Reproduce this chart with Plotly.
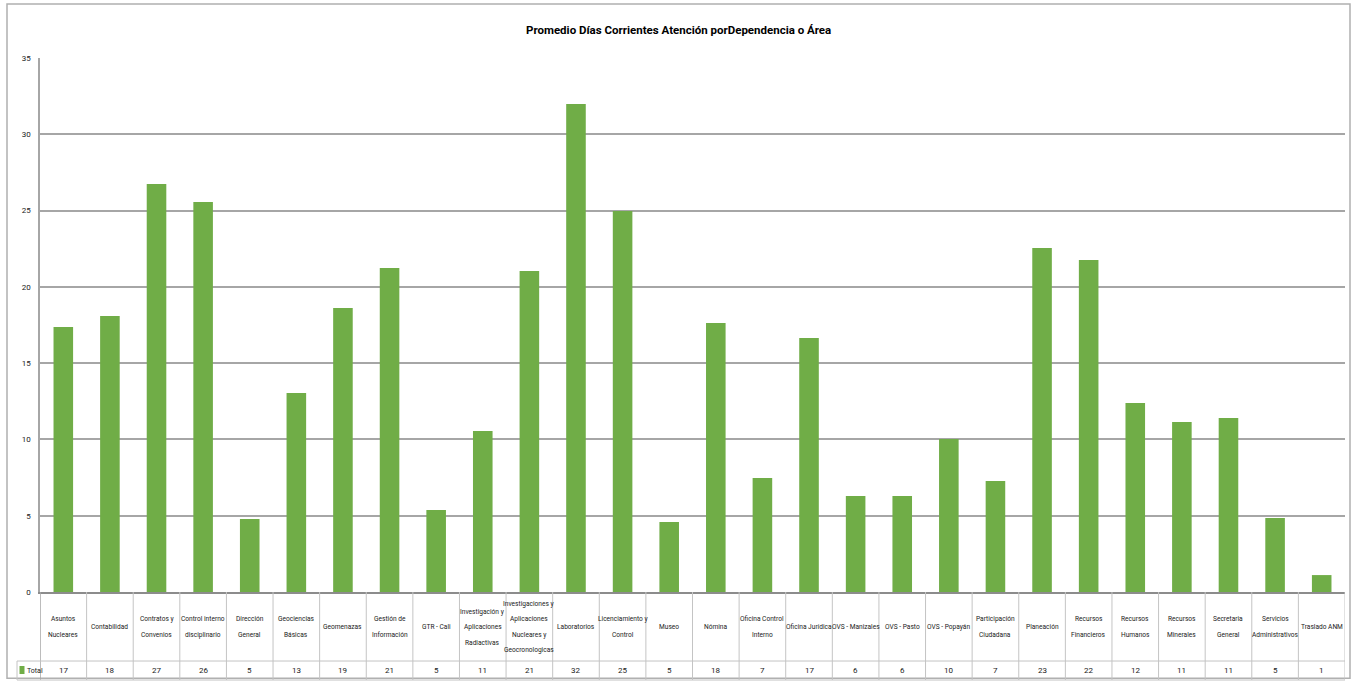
import plotly.graph_objects as go

W, H = 1354, 684

categories = [
    "Asuntos<br>Nucleares", "Contabilidad", "Contratos y<br>Convenios",
    "Control interno<br>disciplinario", "Dirección<br>General", "Geociencias<br>Básicas",
    "Geomenazas", "Gestión de<br>Información", "GTR - Cali",
    "Investigación y<br>Aplicaciones<br>Radiactivas",
    "Investigaciones y<br>Aplicaciones<br>Nucleares y<br>Geocronologicas",
    "Laboratorios", "Licenciamiento y<br>Control", "Museo", "Nómina",
    "Oficina Control<br>Interno", "Oficina Jurídica", "OVS - Manizales", "OVS - Pasto",
    "OVS - Popayán", "Participación<br>Ciudadana", "Planeación", "Recursos<br>Financieros",
    "Recursos<br>Humanos", "Recursos<br>Minerales", "Secretaria<br>General",
    "Servicios<br>Administrativos", "Traslado ANM",
]
values = [17.37, 18.09, 26.74, 25.56, 4.78, 13.04, 18.61, 21.24, 5.37, 10.55,
          21.04, 31.98, 24.97, 4.59, 17.63, 7.47, 16.65, 6.29, 6.29, 10.03,
          7.28, 22.55, 21.76, 12.39, 11.14, 11.40, 4.85, 1.11]
table_values = ["17", "18", "27", "26", "5", "13", "19", "21", "5", "11",
                "21", "32", "25", "5", "18", "7", "17", "6", "6", "10",
                "7", "23", "22", "12", "11", "11", "5", "1"]
series_name = "Total"
title_text = "Promedio Días Corrientes Atención porDependencia o Área"
y_ticks = [0, 5, 10, 15, 20, 25, 30, 35]

FONT = "Roboto, 'Liberation Sans Narrow', Arial, sans-serif"
GREEN = "#70ad47"
GRID = "#a6a6a6"
CELL = "#c4c4c4"
TXT = "#1a1a1a"


def px(x):
    return x / W


# vertical compensation for the capture (observed y_out ~ 0.9867*y + 5.07)
def py(y):
    yf = (y - 5.07) / 0.9867
    return 1 - yf / H


PLOT_L, PLOT_R = 40, 1345
Y0, Y35 = 593, 59
ROW_T, ROW_B = 662, 681

n = len(categories)
xidx = list(range(n))

fig = go.Figure()
fig.add_trace(go.Bar(
    x=xidx, y=values, name=series_name, width=0.42,
    marker=dict(color=GREEN, line=dict(width=0)),
    hoverinfo="y",
))

shapes = []
annotations = []

# outer chart border
shapes.append(dict(type="rect", xref="paper", yref="paper",
                   x0=px(7), x1=px(1350), y0=max(py(683), 0.001), y1=py(5),
                   line=dict(color="#b0b0b0", width=1.5)))

# table vertical lines at category boundaries
for i in range(n + 1):
    shapes.append(dict(type="line", xref="x", yref="paper",
                       x0=i - 0.5, x1=i - 0.5, y0=py(ROW_B), y1=py(Y0),
                       line=dict(color=CELL if i > 0 else GRID, width=1 if i > 0 else 1.5)))
# table horizontal lines
for yy in (ROW_T, ROW_B):
    shapes.append(dict(type="line", xref="paper", yref="paper",
                       x0=px(17), x1=px(PLOT_R), y0=py(yy), y1=py(yy),
                       line=dict(color=CELL, width=1)))
# Total cell left line
shapes.append(dict(type="line", xref="paper", yref="paper",
                   x0=px(17), x1=px(17), y0=py(ROW_B), y1=py(ROW_T),
                   line=dict(color=CELL, width=1)))
# legend key
shapes.append(dict(type="rect", xref="paper", yref="paper",
                   x0=px(19.5), x1=px(24.5), y0=py(675), y1=py(667),
                   fillcolor=GREEN, line=dict(width=0)))
annotations.append(dict(text=series_name, xref="paper", yref="paper",
                        x=px(24.5), y=py(671.5), xanchor="left", yanchor="middle",
                        showarrow=False, font=dict(family=FONT, size=7, color=TXT)))

# category labels and values
LINE_SP = 15.5
CENTER = 628
for i, (lab, val) in enumerate(zip(categories, table_values)):
    lines = lab.split("<br>")
    m = len(lines)
    for j, ln in enumerate(lines):
        yy = CENTER + (j - (m - 1) / 2) * LINE_SP
        annotations.append(dict(text=ln, xref="x", yref="paper", x=i, y=py(yy),
                                xanchor="center", yanchor="middle", showarrow=False,
                                font=dict(family=FONT, size=6.6, color=TXT)))
    annotations.append(dict(text=val, xref="x", yref="paper", x=i, y=py(671.5),
                            xanchor="center", yanchor="middle", showarrow=False,
                            font=dict(family=FONT, size=8, color=TXT)))

# title
annotations.append(dict(text="<b>" + title_text + "</b>", xref="paper", yref="paper",
                        x=px(678), y=py(31), xanchor="center", yanchor="middle",
                        showarrow=False, font=dict(family=FONT, size=11.5, color="#000")))

fig.update_layout(
    width=W, height=H,
    margin=dict(l=0, r=0, t=0, b=0),
    paper_bgcolor="white", plot_bgcolor="white",
    showlegend=False,
    bargap=0.58,
    shapes=shapes,
    annotations=annotations,
    xaxis=dict(domain=[px(PLOT_L), px(PLOT_R)], range=[-0.5, n - 0.5],
               showticklabels=False, ticks="", showgrid=False, zeroline=False,
               showline=True, linecolor="#8c8c8c", linewidth=2, fixedrange=True),
    yaxis=dict(domain=[py(Y0), py(Y35)], range=[0, 35], tickvals=y_ticks,
               showgrid=True, gridcolor=GRID, gridwidth=1.5, zeroline=False,
               showline=True, linecolor=GRID, linewidth=1.5,
               ticks="", ticklabelstandoff=6,
               tickfont=dict(family=FONT, size=8, color=TXT), fixedrange=True),
)

fig.write_html("out.html")
